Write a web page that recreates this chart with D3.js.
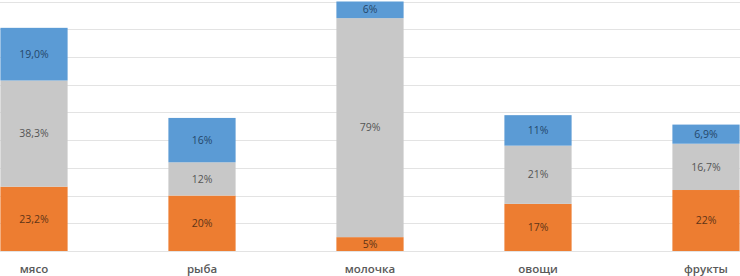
<!DOCTYPE html>
<html>
<head>
<meta charset="utf-8">
<script src="https://cdn.jsdelivr.net/npm/d3@7"></script>
<style>
  body { margin: 0; background: #fff; }
  svg { display: block; }
</style>
</head>
<body>
<svg id="chart" width="740" height="276"></svg>
<script>
// categories and stacked series (bottom to top)
var categories = ["мясо", "рыба", "молочка", "овощи", "фрукты"];
var orangeValues = [23.2, 20, 5, 17, 22];
var grayValues = [38.3, 12, 79, 21, 16.7];
var blueValues = [19.0, 16, 6, 11, 6.9];
var orangeLabels = ["23,2%", "20%", "5%", "17%", "22%"];
var grayLabels = ["38,3%", "12%", "79%", "21%", "16,7%"];
var blueLabels = ["19,0%", "16%", "6%", "11%", "6,9%"];
var gridTicks = [0, 10, 20, 30, 40, 50, 60, 70, 80, 90];

var series = [
    { key: "orange", values: orangeValues, labels: orangeLabels, color: "#ED7D31", text: "#5e3417" },
    { key: "gray", values: grayValues, labels: grayLabels, color: "#C8C8C8", text: "#555555" },
    { key: "blue", values: blueValues, labels: blueLabels, color: "#5B9BD5", text: "#25476a" }
];

var svg = d3.select("#chart");

// plot area is wider than the window: first and last bar are cut at the edges
var x = d3.scaleBand()
    .domain(categories)
    .range([-50, 790])
    .paddingInner(0.6)
    .paddingOuter(0.3);

var y = d3.scaleLinear()
    .domain([0, 90])
    .range([251, 1.5]);

// gridlines
svg.append("g")
    .selectAll("line")
    .data(gridTicks)
    .enter()
    .append("line")
    .attr("x1", 0)
    .attr("x2", 740)
    .attr("y1", function(d) { return Math.round(y(d)) + 0.5 })
    .attr("y2", function(d) { return Math.round(y(d)) + 0.5 })
    .attr("stroke", "#e3e3e3")
    .attr("stroke-width", 1);

// stack the segments
var rows = categories.map(function(c, i) {
    var r = { cat: c };
    series.forEach(function(s) { r[s.key] = s.values[i] });
    return r;
});
var stacked = d3.stack().keys(series.map(function(s) { return s.key }))(rows);

stacked.forEach(function(layer, li) {
    var s = series[li];
    var g = svg.append("g");
    g.selectAll("rect")
        .data(layer)
        .enter()
        .append("rect")
        .attr("x", function(d) { return x(d.data.cat) })
        .attr("width", x.bandwidth())
        .attr("y", function(d) { return y(d[1]) })
        .attr("height", function(d) { return y(d[0]) - y(d[1]) })
        .attr("fill", s.color);

    g.selectAll("text")
        .data(layer)
        .enter()
        .append("text")
        .attr("x", function(d) { return x(d.data.cat) + x.bandwidth() / 2 })
        .attr("y", function(d) { return (y(d[0]) + y(d[1])) / 2 })
        .attr("dy", "0.35em")
        .attr("text-anchor", "middle")
        .attr("font-family", "'Open Sans', sans-serif")
        .attr("font-size", "10.5px")
        .attr("fill", s.text)
        .text(function(d, i) { return s.labels[i] });
});

// category labels
svg.append("g")
    .selectAll("text")
    .data(categories)
    .enter()
    .append("text")
    .attr("x", function(d) { return x(d) + x.bandwidth() / 2 })
    .attr("y", 273)
    .attr("text-anchor", "middle")
    .attr("font-family", "'Open Sans', sans-serif")
    .attr("font-weight", "600")
    .attr("font-size", "11.5px")
    .attr("fill", "#595959")
    .text(function(d) { return d });
</script>
</body>
</html>
